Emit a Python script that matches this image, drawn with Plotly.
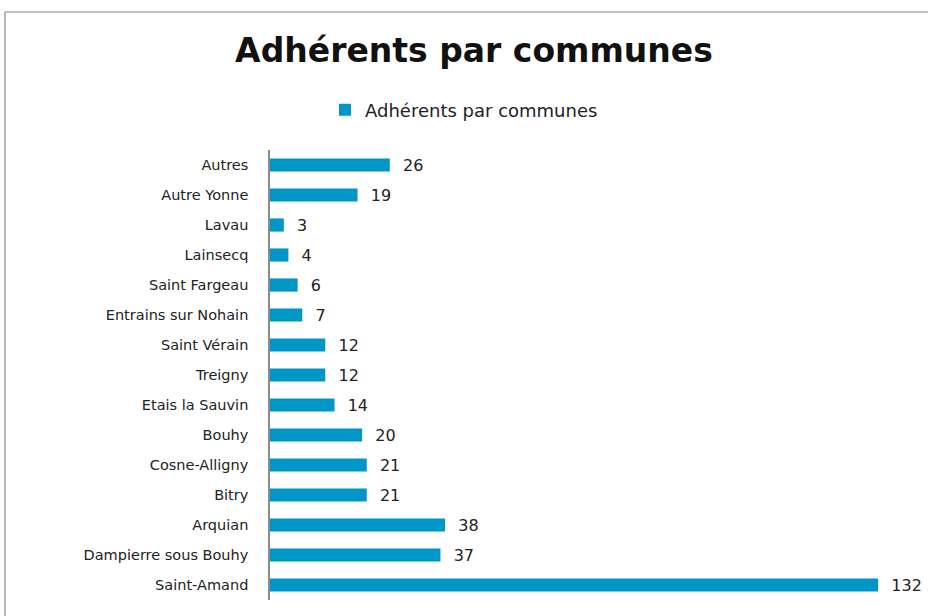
import plotly.graph_objects as go

categories = ["Saint-Amand", "Dampierre sous Bouhy", "Arquian", "Bitry", "Cosne-Alligny",
              "Bouhy", "Etais la Sauvin", "Treigny", "Saint Vérain", "Entrains sur Nohain",
              "Saint Fargeau", "Lainsecq", "Lavau", "Autre Yonne", "Autres"]
values = [132, 37, 38, 21, 21, 20, 14, 12, 12, 7, 6, 4, 3, 19, 26]
series_name = "Adhérents par communes"
title_text = "Adhérents par communes"

FONT = "DejaVu Sans"
BLUE = "#0096C8"

# plot area in pixels
L, R, T, B = 270, 915, 150, 600
W, H = 928, 616

fig = go.Figure()
fig.add_trace(go.Bar(
    y=categories, x=values, orientation="h", name=series_name,
    marker=dict(color=BLUE, line=dict(width=0)),
    text=values, texttemplate="\u00a0\u00a0%{x}", textposition="outside",
    constraintext="none",
    textfont=dict(family=FONT, size=16, color="#222222"),
    cliponaxis=False, showlegend=True,
))

fig.update_layout(
    width=W, height=H,
    margin=dict(l=L, r=W - R, t=T, b=H - B),
    paper_bgcolor="white", plot_bgcolor="white",
    bargap=0.56,
    title=dict(text=title_text, x=474 / W, xanchor="center", y=1 - 50 / H, yanchor="middle",
               font=dict(family=FONT, size=33, color="#111111", weight="bold")),
    legend=dict(orientation="h", x=464 / W, xanchor="center", y=1 - 110 / H, yanchor="middle",
                xref="container", yref="container",
                font=dict(family=FONT, size=18, color="#222222"),
                itemwidth=30, bgcolor="rgba(0,0,0,0)"),
    xaxis=dict(range=[0, 140], visible=False, showgrid=False, zeroline=False),
    yaxis=dict(showgrid=False, zeroline=False, showline=True, linecolor="#8c8c8c", linewidth=1.5,
               ticks="", ticklabelstandoff=17,
               tickfont=dict(family=FONT, size=14.5, color="#222222")),
    shapes=[dict(type="rect", xref="paper", yref="paper",
                 x0=(5 - L) / (R - L), x1=(935 - L) / (R - L),
                 y0=(B - 625) / (B - T), y1=(B - 12) / (B - T),
                 line=dict(color="#8a8a8a", width=1.2), fillcolor="rgba(0,0,0,0)", layer="below")],
)

fig.write_html("out.html", config={"displayModeBar": False},
               post_script="document.body.style.margin='0';")
